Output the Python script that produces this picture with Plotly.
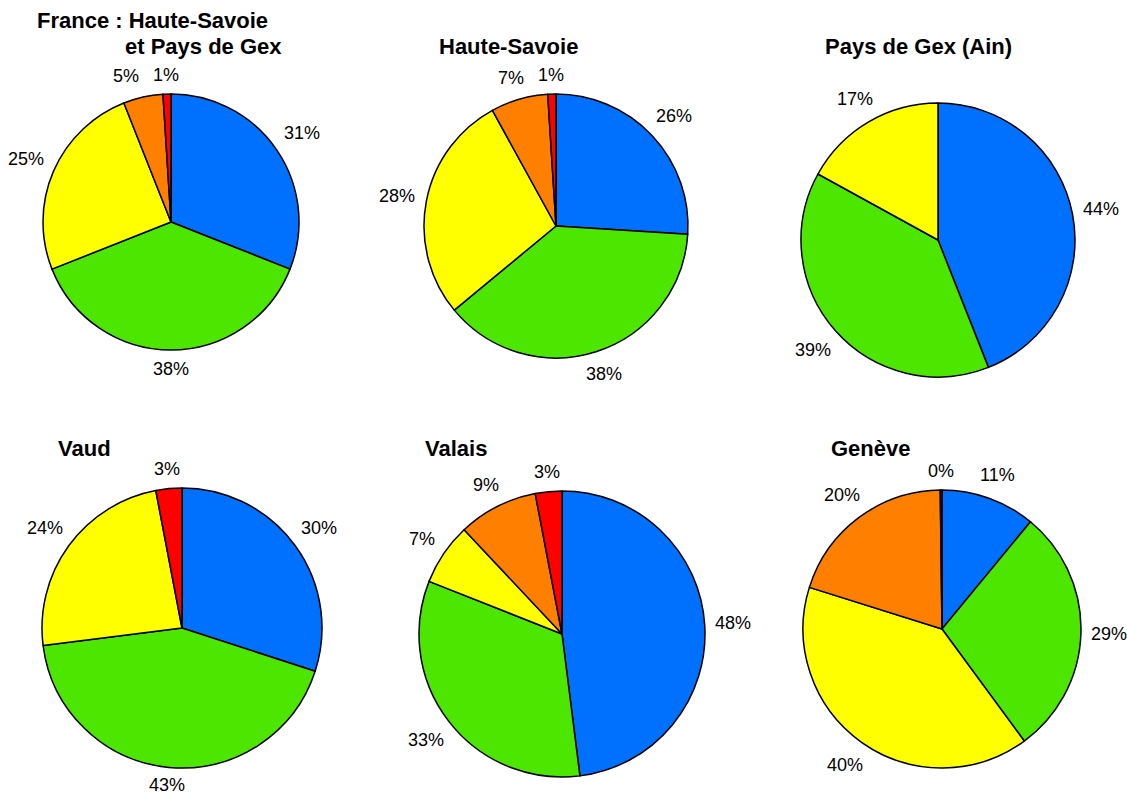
import math
import plotly.graph_objects as go

W, H = 1127, 796

# Slice order (clockwise from 12 o'clock): blue, green, yellow, orange, red
france_vals = [31, 38, 25, 5, 1]
haute_savoie_vals = [26, 38, 28, 7, 1]
gex_vals = [44, 39, 17]
vaud_vals = [30, 43, 24, 3]
valais_vals = [48, 33, 7, 9, 3]
geneve_vals = [11, 29, 40, 20, 0.2]

BLUE, GREEN, YELLOW, ORANGE, RED = "#0070FF", "#4CE600", "#FFFF00", "#FF8000", "#FF0000"
france_cols = [BLUE, GREEN, YELLOW, ORANGE, RED]
haute_savoie_cols = [BLUE, GREEN, YELLOW, ORANGE, RED]
gex_cols = [BLUE, GREEN, YELLOW]
vaud_cols = [BLUE, GREEN, YELLOW, RED]
valais_cols = [BLUE, GREEN, YELLOW, ORANGE, RED]
geneve_cols = [BLUE, GREEN, YELLOW, ORANGE, RED]

FONT = "Liberation Sans, Arial, sans-serif"
LABEL_SIZE = 18
LABEL_GAP = 10   # px between circle edge and nearest side of the label box
MIN_SPACING = 14  # px kept between neighbouring labels

# (values, colours, centre x px, centre y px, radius px)
pies = [
    (france_vals, france_cols, 171, 222, 128),
    (haute_savoie_vals, haute_savoie_cols, 556, 226, 132),
    (gex_vals, gex_cols, 938, 240, 137),
    (vaud_vals, vaud_cols, 182, 628, 140),
    (valais_vals, valais_cols, 562, 634, 143),
    (geneve_vals, geneve_cols, 942, 629, 139),
]

fig = go.Figure()
for vals, cols, cx, cy, r in pies:
    fig.add_trace(go.Pie(
        values=vals,
        marker=dict(colors=cols, line=dict(color="black", width=1.5)),
        sort=False,
        direction="clockwise",
        rotation=0,
        textinfo="none",
        hoverinfo="skip",
        showlegend=False,
        domain=dict(x=[(cx - r) / W, (cx + r) / W],
                    y=[1 - (cy + r) / H, 1 - (cy - r) / H]),
    ))

    # percentage labels outside each slice, at its mid angle
    total = sum(vals)
    cum = 0.0
    labels = []
    for v in vals:
        mid = (cum + v / 2) / total * 2 * math.pi
        cum += v
        text = f"{v:.0f}%"
        half_w = (10 * (len(text) - 1) + 16) / 2
        half_h = 9
        s, c = math.sin(mid), -math.cos(mid)
        d = r + LABEL_GAP + abs(s) * half_w + abs(c) * half_h
        labels.append([text, cx + d * s, cy + d * c, half_w, half_h])

    # push a label leftwards when it crowds the next one round the circle
    for i in range(1, len(labels)):
        prev, cur = labels[i - 1], labels[i]
        if abs(prev[2] - cur[2]) < prev[4] + cur[4]:
            need = prev[3] + cur[3] + MIN_SPACING
            if prev[1] < cur[1] and cur[1] - prev[1] < need:
                prev[1] = cur[1] - need

    for text, x, y, hw, hh in labels:
        y = min(y, H - hh - 2)
        fig.add_annotation(
            text=text, x=x / W, y=1 - y / H, xref="paper", yref="paper",
            xanchor="center", yanchor="middle", showarrow=False,
            font=dict(family=FONT, size=LABEL_SIZE, color="black"),
        )

# Titles: (text, left x px, centre y px)
titles = [
    ("France : Haute-Savoie", 35, 20),
    ("et Pays de Gex", 123, 47),
    ("Haute-Savoie", 437, 47),
    ("Pays de Gex (Ain)", 823, 47),
    ("Vaud", 56, 448),
    ("Valais", 423, 448),
    ("Genève", 829, 448),
]
for text, x, y in titles:
    fig.add_annotation(
        text=f"<b>{text}</b>", x=x / W, y=1 - y / H, xref="paper", yref="paper",
        xanchor="left", yanchor="middle", showarrow=False,
        font=dict(family=FONT, size=22, color="black"),
    )

fig.update_layout(
    width=W, height=H,
    margin=dict(l=0, r=0, t=0, b=0),
    paper_bgcolor="white", plot_bgcolor="white",
)

fig.write_html("out.html")
